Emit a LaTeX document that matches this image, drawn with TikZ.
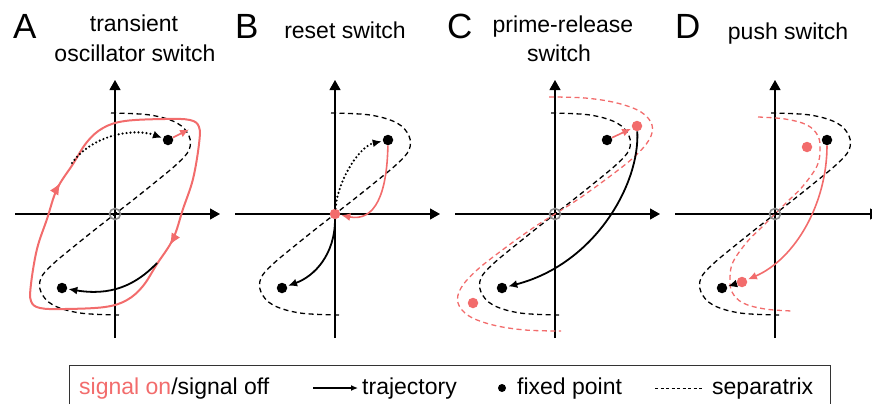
\documentclass[tikz,border=0pt]{standalone}
\usepackage{fontspec}
\setmainfont{Liberation Sans}
\usetikzlibrary{arrows.meta,decorations.markings}
\definecolor{sigred}{RGB}{242,108,108}

\newcommand{\separatrix}[1][]{\draw [sep, #1] plot [smooth, tension=0.6] coordinates {(-4,101) (35,99) (62,91) (74,78) (74,64) (62,50) (38,30) (18,14) (0,0) (-18,-14) (-38,-30) (-62,-50) (-74,-64) (-74,-78) (-62,-91) (-35,-99) (4,-101)};}
\newcommand{\phaseaxes}{\draw [axis] (-100,0) -- (105,0); \draw [axis] (0,-124) -- (0,134);}

\begin{document}
\begin{tikzpicture}[x=1pt, y=1pt,
  axis/.style={line width=1.1pt, -{Triangle[length=10pt,width=11pt]}},
  sep/.style={line width=1.3pt, dash pattern=on 5pt off 3.5pt},
  origin/.style={draw=black!45, line width=1.6pt, circle, inner sep=0pt, minimum size=11pt},
  fixpt/.style={circle, fill=black, inner sep=0pt, minimum size=10.5pt},
  traj/.style={line width=1.8pt, shorten >=1pt, -{Latex[length=9pt,width=8pt]}},
  dots/.style={line width=2.4pt, line cap=round, dash pattern=on 0pt off 4pt},
  title/.style={anchor=base, font=\fontsize{23}{26}\selectfont},
  letter/.style={anchor=base west, inner sep=0pt, font=\fontsize{35}{40}\selectfont},
  legend/.style={anchor=base west, inner sep=0pt, font=\fontsize{23}{26}\selectfont}]
\useasboundingbox (0,0) rectangle (872,-404);

\node (lA) [letter] at (13,-38) {A};
\node (tA1) [title] at (134,-32) {transient};
\node (tA2) [title] at (135,-62) {oscillator switch};
\node (lB) [letter] at (235,-38) {B};
\node (tB) [title] at (345,-39) {reset switch};
\node (lC) [letter] at (447,-38) {C};
\node (tC1) [title] at (563,-33) {prime-release};
\node (tC2) [title] at (559,-62) {switch};
\node (lD) [letter] at (675,-38) {D};
\node (tD) [title] at (788,-40) {push switch};

% A
\begin{scope}[shift={(115,-214)}]
\phaseaxes
\separatrix
\draw [sigred, line width=2pt, postaction={decorate}, decoration={markings,
  mark=at position 0.12 with {\arrow{Latex[length=12pt,width=10pt]}},
  mark=at position 0.62 with {\arrow{Latex[length=12pt,width=10pt]}}}]
  plot [smooth cycle, tension=0.6] coordinates {(84,70) (78,35) (68,5) (58,-25) (42,-50) (28,-72) (12,-86) (-10,-93) (-50,-95) (-75,-94) (-84,-87) (-84,-70) (-78,-35) (-68,-5) (-58,25) (-42,50) (-28,72) (-12,86) (10,93) (50,95) (75,94) (84,87)};
\node (oA) [origin] at (0,0) {};
\node (fa1) [fixpt] at (53,74) {};
\node (fa2) [fixpt] at (-53,-74) {};
\coordinate (ca) at (75,85);
\coordinate (da) at (-43,51);
\coordinate (sa) at (42,-49);
\draw [traj, sigred, line width=1.6pt] (fa1) -- (ca);
\draw [traj, dots] (da) .. controls (-22,80) and (20,86) .. (fa1);
\draw [traj] (sa) .. controls (20,-72) and (-5,-82) .. (fa2);
\end{scope}

% B
\begin{scope}[shift={(335,-214)}]
\phaseaxes
\separatrix
\node (rb0) [fixpt, fill=sigred] at (0,0) {};
\node (fb1) [fixpt] at (53,74) {};
\node (fb2) [fixpt] at (-53,-74) {};
\draw [traj, dots] (rb0) .. controls (3,35) and (25,68) .. (fb1);
\draw [traj, sigred, line width=1.6pt] (fb1) .. controls (52,20) and (40,-8) .. (rb0);
\draw [traj] (rb0) .. controls (0,-40) and (-20,-62) .. (fb2);
\end{scope}

% C
\begin{scope}[shift={(555,-214)}]
\phaseaxes
\separatrix
\draw [sep, sigred] plot [smooth, tension=0.6] coordinates {(-6,117) (30,116) (62,111) (86,102) (97,89) (94,74) (78,56) (50,34) (22,14) (0,0) (-22,-14) (-50,-34) (-78,-56) (-94,-74) (-97,-89) (-86,-102) (-62,-111) (-30,-116) (6,-117)};
\node (oC) [origin] at (0,0) {};
\node (fc1) [fixpt] at (52,74) {};
\node (fc2) [fixpt] at (-53,-74) {};
\node (rc1) [fixpt, fill=sigred] at (82,88) {};
\node (rc2) [fixpt, fill=sigred] at (-82,-89) {};
\draw [traj, sigred, line width=1.6pt] (fc1) -- (rc1);
\draw [traj] (rc1) .. controls (85,30) and (40,-50) .. (fc2);
\end{scope}

% D
\begin{scope}[shift={(775,-214)}]
\phaseaxes
\separatrix
\draw [sep, sigred] plot [smooth, tension=0.6] coordinates {(-17,97) (10,95) (32,89) (43,78) (45,64) (42,48) (28,28) (12,12) (0,0) (-12,-12) (-28,-28) (-42,-48) (-45,-64) (-43,-78) (-32,-89) (-10,-95) (17,-97)};
\node (oD) [origin] at (0,0) {};
\node (fd1) [fixpt] at (52,74) {};
\node (fd2) [fixpt] at (-53,-74) {};
\node (rd1) [fixpt, fill=sigred] at (32,67) {};
\node (rd2) [fixpt, fill=sigred] at (-33,-68) {};
\draw [traj, sigred, line width=1.6pt] (fd1) .. controls (52,10) and (20,-45) .. (rd2);
\draw [traj, line width=1.3pt] (rd2) -- (fd2);
\end{scope}

% legend
\draw [line width=0.9pt, black!80] (69,-404) |- (830,-365) -- (830,-404);
\node (legsig) [legend] at (79,-394) {\textcolor{sigred}{signal on}/signal off};
\coordinate (legarr1) at (313,-388);
\coordinate (legarr2) at (358,-388);
\draw [line width=1.3pt, -{Latex[length=7pt,width=6pt]}] (legarr1) -- (legarr2);
\node (legtraj) [legend] at (362,-394) {trajectory};
\node (legdot) [fixpt, minimum size=8pt] at (502,-388) {};
\node (legfix) [legend] at (517,-394) {fixed point};
\coordinate (legsep1) at (655,-388);
\coordinate (legsep2) at (702,-388);
\draw [line width=1pt, dash pattern=on 3pt off 2.5pt] (legsep1) -- (legsep2);
\node (legsep) [legend] at (712,-394) {separatrix};
\end{tikzpicture}
\end{document}
